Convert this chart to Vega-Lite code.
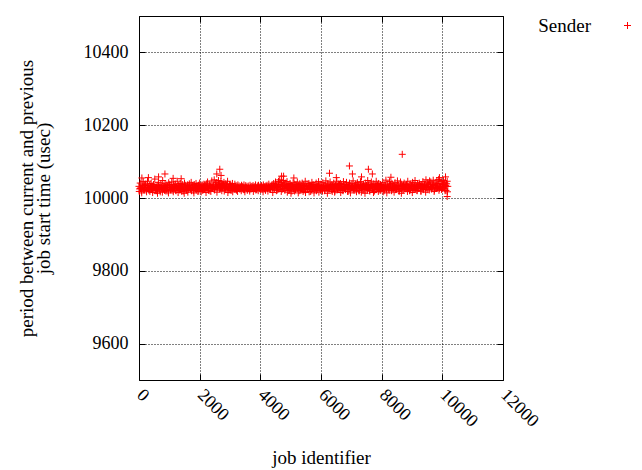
{
"$schema": "https://vega.github.io/schema/vega-lite/v6.json",
"width": 364, "height": 364,
"autosize": {"type": "none"},
"padding": {"left": 139, "top": 16, "right": 139, "bottom": 90},
"background": "white",
"config": {
  "view": {"stroke": "#000", "strokeWidth": 1},
  "font": "Liberation Serif",
  "axis": {"labelFont": "Liberation Serif", "titleFont": "Liberation Serif", "labelFontSize": 18, "titleFontSize": 19, "labelColor": "#000", "titleColor": "#000", "titleFontWeight": "normal", "domain": false, "tickColor": "#000", "gridColor": "#000", "gridDash": [1, 2], "gridWidth": 1, "gridOpacity": 1},
  "legend": {"labelFont": "Liberation Serif"}
},
"datasets": {
"main": [
{"job":0,"period":10032},{"job":20,"period":10025},{"job":40,"period":10041},{"job":60,"period":10028},{"job":80,"period":10019},{"job":100,"period":10036},{"job":120,"period":10030},{"job":140,"period":10045},{"job":160,"period":10023},{"job":180,"period":10034},
{"job":200,"period":10027},{"job":220,"period":10038},{"job":240,"period":10021},{"job":260,"period":10033},{"job":280,"period":10046},{"job":300,"period":10029},{"job":320,"period":10024},{"job":340,"period":10035},{"job":360,"period":10018},{"job":380,"period":10031},
{"job":400,"period":10040},{"job":420,"period":10026},{"job":440,"period":10033},{"job":460,"period":10022},{"job":480,"period":10037},{"job":500,"period":10029},{"job":520,"period":10052},{"job":540,"period":10025},{"job":560,"period":10031},{"job":580,"period":10020},
{"job":600,"period":10035},{"job":620,"period":10028},{"job":640,"period":10043},{"job":660,"period":10024},{"job":680,"period":10030},{"job":700,"period":10017},{"job":720,"period":10038},{"job":740,"period":10027},{"job":760,"period":10033},{"job":780,"period":10048},
{"job":800,"period":10026},{"job":820,"period":10034},{"job":840,"period":10021},{"job":860,"period":10039},{"job":880,"period":10029},{"job":900,"period":10024},{"job":920,"period":10036},{"job":940,"period":10031},{"job":960,"period":10019},{"job":980,"period":10042},
{"job":1000,"period":10028},{"job":1020,"period":10035},{"job":1040,"period":10023},{"job":1060,"period":10030},{"job":1080,"period":10044},{"job":1100,"period":10027},{"job":1120,"period":10021},{"job":1140,"period":10037},{"job":1160,"period":10032},{"job":1180,"period":10025},
{"job":1200,"period":10038},{"job":1220,"period":10020},{"job":1240,"period":10031},{"job":1260,"period":10046},{"job":1280,"period":10026},{"job":1300,"period":10034},{"job":1320,"period":10029},{"job":1340,"period":10022},{"job":1360,"period":10040},{"job":1380,"period":10027},
{"job":1400,"period":10033},{"job":1420,"period":10024},{"job":1440,"period":10037},{"job":1460,"period":10019},{"job":1480,"period":10030},{"job":1500,"period":10041},{"job":1520,"period":10025},{"job":1540,"period":10035},{"job":1560,"period":10028},{"job":1580,"period":10021},
{"job":1600,"period":10036},{"job":1620,"period":10029},{"job":1640,"period":10023},{"job":1660,"period":10039},{"job":1680,"period":10031},{"job":1700,"period":10026},{"job":1720,"period":10043},{"job":1740,"period":10022},{"job":1760,"period":10034},{"job":1780,"period":10028},
{"job":1800,"period":10020},{"job":1820,"period":10037},{"job":1840,"period":10030},{"job":1860,"period":10025},{"job":1880,"period":10040},{"job":1900,"period":10027},{"job":1920,"period":10033},{"job":1940,"period":10018},{"job":1960,"period":10035},{"job":1980,"period":10029},
{"job":2000,"period":10041},{"job":2020,"period":10024},{"job":2040,"period":10032},{"job":2060,"period":10027},{"job":2080,"period":10036},{"job":2100,"period":10021},{"job":2120,"period":10030},{"job":2140,"period":10038},{"job":2160,"period":10026},{"job":2180,"period":10034},
{"job":2200,"period":10023},{"job":2220,"period":10039},{"job":2240,"period":10028},{"job":2260,"period":10044},{"job":2280,"period":10031},{"job":2300,"period":10025},{"job":2320,"period":10036},{"job":2340,"period":10020},{"job":2360,"period":10033},{"job":2380,"period":10029},
{"job":2400,"period":10047},{"job":2420,"period":10026},{"job":2440,"period":10035},{"job":2460,"period":10030},{"job":2480,"period":10050},{"job":2500,"period":10024},{"job":2520,"period":10038},{"job":2540,"period":10031},{"job":2560,"period":10042},{"job":2580,"period":10027},
{"job":2600,"period":10034},{"job":2620,"period":10048},{"job":2640,"period":10029},{"job":2660,"period":10037},{"job":2680,"period":10025},{"job":2700,"period":10045},{"job":2720,"period":10032},{"job":2740,"period":10040},{"job":2760,"period":10028},{"job":2780,"period":10036},
{"job":2800,"period":10043},{"job":2820,"period":10030},{"job":2840,"period":10024},{"job":2860,"period":10039},{"job":2880,"period":10033},{"job":2900,"period":10027},{"job":2920,"period":10046},{"job":2940,"period":10031},{"job":2960,"period":10022},{"job":2980,"period":10037},
{"job":3000,"period":10029},{"job":3020,"period":10035},{"job":3040,"period":10021},{"job":3060,"period":10033},{"job":3080,"period":10040},{"job":3100,"period":10026},{"job":3120,"period":10031},{"job":3140,"period":10024},{"job":3160,"period":10038},{"job":3180,"period":10028},
{"job":3200,"period":10034},{"job":3220,"period":10022},{"job":3240,"period":10030},{"job":3260,"period":10036},{"job":3280,"period":10027},{"job":3300,"period":10033},{"job":3320,"period":10025},{"job":3340,"period":10031},{"job":3360,"period":10029},{"job":3380,"period":10035},
{"job":3400,"period":10026},{"job":3420,"period":10032},{"job":3440,"period":10028},{"job":3460,"period":10036},{"job":3480,"period":10023},{"job":3500,"period":10030},{"job":3520,"period":10034},{"job":3540,"period":10027},{"job":3560,"period":10031},{"job":3580,"period":10025},
{"job":3600,"period":10033},{"job":3620,"period":10029},{"job":3640,"period":10024},{"job":3660,"period":10035},{"job":3680,"period":10030},{"job":3700,"period":10027},{"job":3720,"period":10032},{"job":3740,"period":10026},{"job":3760,"period":10034},{"job":3780,"period":10028},
{"job":3800,"period":10031},{"job":3820,"period":10025},{"job":3840,"period":10036},{"job":3860,"period":10029},{"job":3880,"period":10023},{"job":3900,"period":10033},{"job":3920,"period":10028},{"job":3940,"period":10035},{"job":3960,"period":10030},{"job":3980,"period":10026},
{"job":4000,"period":10032},{"job":4020,"period":10027},{"job":4040,"period":10034},{"job":4060,"period":10024},{"job":4080,"period":10030},{"job":4100,"period":10036},{"job":4120,"period":10028},{"job":4140,"period":10031},{"job":4160,"period":10025},{"job":4180,"period":10033},
{"job":4200,"period":10029},{"job":4220,"period":10035},{"job":4240,"period":10026},{"job":4260,"period":10031},{"job":4280,"period":10038},{"job":4300,"period":10027},{"job":4320,"period":10033},{"job":4340,"period":10024},{"job":4360,"period":10030},{"job":4380,"period":10036},
{"job":4400,"period":10028},{"job":4420,"period":10034},{"job":4440,"period":10040},{"job":4460,"period":10025},{"job":4480,"period":10032},{"job":4500,"period":10044},{"job":4520,"period":10029},{"job":4540,"period":10037},{"job":4560,"period":10022},{"job":4580,"period":10035},
{"job":4600,"period":10046},{"job":4620,"period":10031},{"job":4640,"period":10050},{"job":4660,"period":10027},{"job":4680,"period":10038},{"job":4700,"period":10043},{"job":4720,"period":10024},{"job":4740,"period":10036},{"job":4760,"period":10048},{"job":4780,"period":10030},
{"job":4800,"period":10034},{"job":4820,"period":10041},{"job":4840,"period":10026},{"job":4860,"period":10032},{"job":4880,"period":10045},{"job":4900,"period":10029},{"job":4920,"period":10037},{"job":4940,"period":10021},{"job":4960,"period":10033},{"job":4980,"period":10040},
{"job":5000,"period":10027},{"job":5020,"period":10035},{"job":5040,"period":10019},{"job":5060,"period":10031},{"job":5080,"period":10042},{"job":5100,"period":10025},{"job":5120,"period":10038},{"job":5140,"period":10030},{"job":5160,"period":10023},{"job":5180,"period":10036},
{"job":5200,"period":10032},{"job":5220,"period":10044},{"job":5240,"period":10026},{"job":5260,"period":10034},{"job":5280,"period":10020},{"job":5300,"period":10039},{"job":5320,"period":10029},{"job":5340,"period":10035},{"job":5360,"period":10024},{"job":5380,"period":10041},
{"job":5400,"period":10028},{"job":5420,"period":10036},{"job":5440,"period":10022},{"job":5460,"period":10033},{"job":5480,"period":10046},{"job":5500,"period":10027},{"job":5520,"period":10031},{"job":5540,"period":10038},{"job":5560,"period":10025},{"job":5580,"period":10034},
{"job":5600,"period":10040},{"job":5620,"period":10029},{"job":5640,"period":10035},{"job":5660,"period":10018},{"job":5680,"period":10032},{"job":5700,"period":10043},{"job":5720,"period":10026},{"job":5740,"period":10037},{"job":5760,"period":10030},{"job":5780,"period":10023},
{"job":5800,"period":10036},{"job":5820,"period":10027},{"job":5840,"period":10041},{"job":5860,"period":10031},{"job":5880,"period":10024},{"job":5900,"period":10034},{"job":5920,"period":10045},{"job":5940,"period":10028},{"job":5960,"period":10033},{"job":5980,"period":10021},
{"job":6000,"period":10038},{"job":6020,"period":10030},{"job":6040,"period":10025},{"job":6060,"period":10042},{"job":6080,"period":10029},{"job":6100,"period":10035},{"job":6120,"period":10020},{"job":6140,"period":10033},{"job":6160,"period":10047},{"job":6180,"period":10027},
{"job":6200,"period":10031},{"job":6220,"period":10039},{"job":6240,"period":10024},{"job":6260,"period":10036},{"job":6280,"period":10028},{"job":6300,"period":10044},{"job":6320,"period":10030},{"job":6340,"period":10022},{"job":6360,"period":10037},{"job":6380,"period":10033},
{"job":6400,"period":10026},{"job":6420,"period":10041},{"job":6440,"period":10032},{"job":6460,"period":10019},{"job":6480,"period":10035},{"job":6500,"period":10029},{"job":6520,"period":10046},{"job":6540,"period":10025},{"job":6560,"period":10034},{"job":6580,"period":10038},
{"job":6600,"period":10030},{"job":6620,"period":10023},{"job":6640,"period":10040},{"job":6660,"period":10028},{"job":6680,"period":10036},{"job":6700,"period":10021},{"job":6720,"period":10033},{"job":6740,"period":10045},{"job":6760,"period":10027},{"job":6780,"period":10031},
{"job":6800,"period":10037},{"job":6820,"period":10026},{"job":6840,"period":10043},{"job":6860,"period":10032},{"job":6880,"period":10018},{"job":6900,"period":10035},{"job":6920,"period":10029},{"job":6940,"period":10041},{"job":6960,"period":10024},{"job":6980,"period":10034},
{"job":7000,"period":10028},{"job":7020,"period":10039},{"job":7040,"period":10031},{"job":7060,"period":10047},{"job":7080,"period":10025},{"job":7100,"period":10033},{"job":7120,"period":10022},{"job":7140,"period":10038},{"job":7160,"period":10030},{"job":7180,"period":10036},
{"job":7200,"period":10042},{"job":7220,"period":10027},{"job":7240,"period":10034},{"job":7260,"period":10020},{"job":7280,"period":10031},{"job":7300,"period":10045},{"job":7320,"period":10029},{"job":7340,"period":10036},{"job":7360,"period":10024},{"job":7380,"period":10033},
{"job":7400,"period":10038},{"job":7420,"period":10026},{"job":7440,"period":10032},{"job":7460,"period":10041},{"job":7480,"period":10023},{"job":7500,"period":10035},{"job":7520,"period":10030},{"job":7540,"period":10048},{"job":7560,"period":10027},{"job":7580,"period":10034},
{"job":7600,"period":10021},{"job":7620,"period":10037},{"job":7640,"period":10029},{"job":7660,"period":10044},{"job":7680,"period":10032},{"job":7700,"period":10025},{"job":7720,"period":10039},{"job":7740,"period":10031},{"job":7760,"period":10019},{"job":7780,"period":10036},
{"job":7800,"period":10033},{"job":7820,"period":10046},{"job":7840,"period":10028},{"job":7860,"period":10035},{"job":7880,"period":10024},{"job":7900,"period":10040},{"job":7920,"period":10030},{"job":7940,"period":10022},{"job":7960,"period":10037},{"job":7980,"period":10029},
{"job":8000,"period":10034},{"job":8020,"period":10027},{"job":8040,"period":10043},{"job":8060,"period":10031},{"job":8080,"period":10020},{"job":8100,"period":10036},{"job":8120,"period":10029},{"job":8140,"period":10049},{"job":8160,"period":10025},{"job":8180,"period":10033},
{"job":8200,"period":10038},{"job":8220,"period":10024},{"job":8240,"period":10032},{"job":8260,"period":10045},{"job":8280,"period":10028},{"job":8300,"period":10035},{"job":8320,"period":10021},{"job":8340,"period":10040},{"job":8360,"period":10030},{"job":8380,"period":10026},
{"job":8400,"period":10036},{"job":8420,"period":10029},{"job":8440,"period":10042},{"job":8460,"period":10023},{"job":8480,"period":10034},{"job":8500,"period":10031},{"job":8520,"period":10047},{"job":8540,"period":10027},{"job":8560,"period":10035},{"job":8580,"period":10019},
{"job":8600,"period":10032},{"job":8620,"period":10044},{"job":8640,"period":10026},{"job":8660,"period":10038},{"job":8680,"period":10030},{"job":8700,"period":10022},{"job":8720,"period":10036},{"job":8740,"period":10041},{"job":8760,"period":10028},{"job":8780,"period":10034},
{"job":8800,"period":10025},{"job":8820,"period":10037},{"job":8840,"period":10031},{"job":8860,"period":10046},{"job":8880,"period":10029},{"job":8900,"period":10033},{"job":8920,"period":10020},{"job":8940,"period":10039},{"job":8960,"period":10027},{"job":8980,"period":10035},
{"job":9000,"period":10030},{"job":9020,"period":10043},{"job":9040,"period":10024},{"job":9060,"period":10036},{"job":9080,"period":10032},{"job":9100,"period":10048},{"job":9120,"period":10026},{"job":9140,"period":10034},{"job":9160,"period":10021},{"job":9180,"period":10038},
{"job":9200,"period":10029},{"job":9220,"period":10035},{"job":9240,"period":10041},{"job":9260,"period":10027},{"job":9280,"period":10033},{"job":9300,"period":10019},{"job":9320,"period":10037},{"job":9340,"period":10030},{"job":9360,"period":10045},{"job":9380,"period":10025},
{"job":9400,"period":10034},{"job":9420,"period":10039},{"job":9440,"period":10028},{"job":9460,"period":10050},{"job":9480,"period":10031},{"job":9500,"period":10023},{"job":9520,"period":10042},{"job":9540,"period":10036},{"job":9560,"period":10027},{"job":9580,"period":10047},
{"job":9600,"period":10032},{"job":9620,"period":10044},{"job":9640,"period":10025},{"job":9660,"period":10038},{"job":9680,"period":10030},{"job":9700,"period":10049},{"job":9720,"period":10035},{"job":9740,"period":10022},{"job":9760,"period":10041},{"job":9780,"period":10029},
{"job":9800,"period":10036},{"job":9820,"period":10047},{"job":9840,"period":10028},{"job":9860,"period":10033},{"job":9880,"period":10051},{"job":9900,"period":10026},{"job":9920,"period":10040},{"job":9940,"period":10031},{"job":9960,"period":10045},{"job":9980,"period":10024},
{"job":10000,"period":10037},{"job":10020,"period":10030},{"job":10040,"period":10048},{"job":10060,"period":10027},{"job":10080,"period":10042},{"job":10100,"period":10034},{"job":10120,"period":10021},{"job":10140,"period":10039},{"job":10160,"period":10046},{"job":10180,"period":10032},
{"job":10,"period":10018},{"job":50,"period":10026},{"job":90,"period":10014},{"job":130,"period":10030},{"job":170,"period":10022},{"job":210,"period":10035},{"job":250,"period":10017},{"job":290,"period":10028},{"job":330,"period":10021},{"job":370,"period":10033},
{"job":410,"period":10024},{"job":450,"period":10015},{"job":490,"period":10031},{"job":530,"period":10020},{"job":570,"period":10027},{"job":610,"period":10013},{"job":650,"period":10034},{"job":690,"period":10023},{"job":730,"period":10029},{"job":770,"period":10016},
{"job":810,"period":10025},{"job":850,"period":10032},{"job":890,"period":10019},{"job":930,"period":10028},{"job":970,"period":10014},{"job":1010,"period":10036},{"job":1050,"period":10022},{"job":1090,"period":10026},{"job":1130,"period":10017},{"job":1170,"period":10030},
{"job":1210,"period":10021},{"job":1250,"period":10029},{"job":1290,"period":10015},{"job":1330,"period":10033},{"job":1370,"period":10024},{"job":1410,"period":10018},{"job":1450,"period":10027},{"job":1490,"period":10013},{"job":1530,"period":10031},{"job":1570,"period":10023},
{"job":1610,"period":10016},{"job":1650,"period":10034},{"job":1690,"period":10025},{"job":1730,"period":10020},{"job":1770,"period":10029},{"job":1810,"period":10014},{"job":1850,"period":10032},{"job":1890,"period":10022},{"job":1930,"period":10027},{"job":1970,"period":10019},
{"job":2010,"period":10030},{"job":2050,"period":10017},{"job":2090,"period":10026},{"job":2130,"period":10023},{"job":2170,"period":10035},{"job":2210,"period":10015},{"job":2250,"period":10028},{"job":2290,"period":10021},{"job":2330,"period":10033},{"job":2370,"period":10018},
{"job":2410,"period":10027},{"job":2450,"period":10036},{"job":2490,"period":10022},{"job":2530,"period":10031},{"job":2570,"period":10016},{"job":2610,"period":10038},{"job":2650,"period":10025},{"job":2690,"period":10029},{"job":2730,"period":10020},{"job":2770,"period":10034},
{"job":2810,"period":10019},{"job":2850,"period":10028},{"job":2890,"period":10033},{"job":2930,"period":10015},{"job":2970,"period":10026},{"job":3010,"period":10022},{"job":3050,"period":10031},{"job":3090,"period":10017},{"job":3130,"period":10029},{"job":3170,"period":10024},
{"job":3210,"period":10022},{"job":3250,"period":10018},{"job":3290,"period":10027},{"job":3330,"period":10025},{"job":3370,"period":10020},{"job":3410,"period":10029},{"job":3450,"period":10023},{"job":3490,"period":10017},{"job":3530,"period":10028},{"job":3570,"period":10021},
{"job":3610,"period":10026},{"job":3650,"period":10019},{"job":3690,"period":10024},{"job":3730,"period":10030},{"job":3770,"period":10018},{"job":3810,"period":10027},{"job":3850,"period":10022},{"job":3890,"period":10025},{"job":3930,"period":10020},{"job":3970,"period":10028},
{"job":4010,"period":10023},{"job":4050,"period":10029},{"job":4090,"period":10017},{"job":4130,"period":10026},{"job":4170,"period":10021},{"job":4210,"period":10031},{"job":4250,"period":10019},{"job":4290,"period":10027},{"job":4330,"period":10024},{"job":4370,"period":10033},
{"job":4410,"period":10015},{"job":4450,"period":10028},{"job":4490,"period":10035},{"job":4530,"period":10020},{"job":4570,"period":10030},{"job":4610,"period":10024},{"job":4650,"period":10037},{"job":4690,"period":10018},{"job":4730,"period":10032},{"job":4770,"period":10026},
{"job":4810,"period":10021},{"job":4850,"period":10034},{"job":4890,"period":10016},{"job":4930,"period":10029},{"job":4970,"period":10023},{"job":5010,"period":10013},{"job":5050,"period":10031},{"job":5090,"period":10025},{"job":5130,"period":10019},{"job":5170,"period":10036},
{"job":5210,"period":10027},{"job":5250,"period":10014},{"job":5290,"period":10030},{"job":5330,"period":10022},{"job":5370,"period":10033},{"job":5410,"period":10018},{"job":5450,"period":10026},{"job":5490,"period":10015},{"job":5530,"period":10032},{"job":5570,"period":10024},
{"job":5610,"period":10017},{"job":5650,"period":10029},{"job":5690,"period":10023},{"job":5730,"period":10035},{"job":5770,"period":10014},{"job":5810,"period":10027},{"job":5850,"period":10020},{"job":5890,"period":10031},{"job":5930,"period":10016},{"job":5970,"period":10028},
{"job":6010,"period":10025},{"job":6050,"period":10019},{"job":6090,"period":10033},{"job":6130,"period":10021},{"job":6170,"period":10030},{"job":6210,"period":10013},{"job":6250,"period":10027},{"job":6290,"period":10024},{"job":6330,"period":10034},{"job":6370,"period":10018},
{"job":6410,"period":10029},{"job":6450,"period":10016},{"job":6490,"period":10032},{"job":6530,"period":10022},{"job":6570,"period":10026},{"job":6610,"period":10037},{"job":6650,"period":10015},{"job":6690,"period":10028},{"job":6730,"period":10020},{"job":6770,"period":10031},
{"job":6810,"period":10023},{"job":6850,"period":10035},{"job":6890,"period":10018},{"job":6930,"period":10027},{"job":6970,"period":10014},{"job":7010,"period":10030},{"job":7050,"period":10025},{"job":7090,"period":10021},{"job":7130,"period":10033},{"job":7170,"period":10017},
{"job":7210,"period":10028},{"job":7250,"period":10020},{"job":7290,"period":10034},{"job":7330,"period":10016},{"job":7370,"period":10031},{"job":7410,"period":10024},{"job":7450,"period":10013},{"job":7490,"period":10029},{"job":7530,"period":10022},{"job":7570,"period":10036},
{"job":7610,"period":10019},{"job":7650,"period":10027},{"job":7690,"period":10032},{"job":7730,"period":10015},{"job":7770,"period":10030},{"job":7810,"period":10023},{"job":7850,"period":10035},{"job":7890,"period":10018},{"job":7930,"period":10026},{"job":7970,"period":10021},
{"job":8010,"period":10031},{"job":8050,"period":10017},{"job":8090,"period":10025},{"job":8130,"period":10033},{"job":8170,"period":10014},{"job":8210,"period":10028},{"job":8250,"period":10022},{"job":8290,"period":10036},{"job":8330,"period":10020},{"job":8370,"period":10027},
{"job":8410,"period":10016},{"job":8450,"period":10030},{"job":8490,"period":10024},{"job":8530,"period":10034},{"job":8570,"period":10019},{"job":8610,"period":10026},{"job":8650,"period":10013},{"job":8690,"period":10032},{"job":8730,"period":10023},{"job":8770,"period":10029},
{"job":8810,"period":10035},{"job":8850,"period":10018},{"job":8890,"period":10027},{"job":8930,"period":10021},{"job":8970,"period":10031},{"job":9010,"period":10015},{"job":9050,"period":10028},{"job":9090,"period":10024},{"job":9130,"period":10033},{"job":9170,"period":10020},
{"job":9210,"period":10026},{"job":9250,"period":10037},{"job":9290,"period":10019},{"job":9330,"period":10030},{"job":9370,"period":10023},{"job":9410,"period":10034},{"job":9450,"period":10016},{"job":9490,"period":10029},{"job":9530,"period":10038},{"job":9570,"period":10022},
{"job":9610,"period":10031},{"job":9650,"period":10025},{"job":9690,"period":10036},{"job":9730,"period":10018},{"job":9770,"period":10033},{"job":9810,"period":10027},{"job":9850,"period":10039},{"job":9890,"period":10021},{"job":9930,"period":10030},{"job":9970,"period":10024},
{"job":10010,"period":10028},{"job":10050,"period":10035},{"job":10090,"period":10020},{"job":10130,"period":10032},{"job":10170,"period":10017},
{"job":95,"period":10055},{"job":310,"period":10056},{"job":645,"period":10058},{"job":855,"period":10066},{"job":1125,"period":10054},{"job":1390,"period":10053},{"job":2564,"period":10066},{"job":2663,"period":10079},{"job":2705,"period":10062},{"job":4700,"period":10060},{"job":4767,"period":10060},{"job":5105,"period":10055},{"job":6280,"period":10068},{"job":6505,"period":10056},{"job":6937,"period":10088},{"job":7036,"period":10066},{"job":7335,"period":10058},{"job":7562,"period":10079},{"job":7693,"period":10066},{"job":8305,"period":10057},{"job":8679,"period":10120},{"job":9905,"period":10056},{"job":10105,"period":10058},{"job":10159,"period":10004}
]
},
"data": {"name": "main"},
"layer": [
  {
    "mark": {"type": "point", "shape": "M-1,0L1,0M0,-1L0,1", "filled": false, "strokeWidth": 1, "size": 49, "opacity": 1},
    "encoding": {
      "x": {"field": "job", "type": "quantitative", "scale": {"domain": [0, 12000], "nice": false, "zero": false},
            "axis": {"orient": "bottom", "title": "job identifier", "format": "d", "values": [0, 2000, 4000, 6000, 8000, 10000, 12000], "grid": true, "tickSize": -6, "labelAngle": 45, "labelAlign": "left", "labelBaseline": "middle", "labelPadding": 18, "labelDx": 2, "titleY": 83, "titleBaseline": "alphabetic", "labelFlush": false, "labelOverlap": false, "labelBound": false}},
      "y": {"field": "period", "type": "quantitative", "scale": {"domain": [9500, 10500], "nice": false, "zero": false},
            "axis": {"orient": "left", "title": ["period between current and previous", "job start time (usec)"], "format": "d", "values": [9600, 9800, 10000, 10200, 10400], "grid": true, "tickSize": -6, "labelPadding": 17, "titlePadding": 30, "titleLineHeight": 17, "labelFlush": false, "labelOverlap": false}},
      "color": {"datum": "Sender", "type": "nominal", "scale": {"range": ["#ff0000"]},
            "legend": {"orient": "none", "legendX": 479, "legendY": 0, "title": null, "labelFontSize": 19, "labelFont": "Liberation Serif", "labelColor": "#000", "labelAlign": "right", "labelOffset": -46, "symbolType": "M-1,0L1,0M0,-1L0,1", "symbolSize": 49, "symbolStrokeWidth": 1, "symbolStrokeColor": "#ff0000", "symbolFillColor": "transparent", "padding": 0}}
    }
  },
  {
    "mark": {"type": "point", "opacity": 0},
    "encoding": {
      "x": {"field": "job", "type": "quantitative", "axis": {"orient": "top", "title": null, "labels": false, "grid": false, "tickSize": -6, "values": [0, 2000, 4000, 6000, 8000, 10000, 12000]}},
      "y": {"field": "period", "type": "quantitative", "axis": {"orient": "right", "title": null, "labels": false, "grid": false, "tickSize": -6, "values": [9600, 9800, 10000, 10200, 10400]}}
    }
  }
],
"resolve": {"axis": {"x": "independent", "y": "independent"}}
}
